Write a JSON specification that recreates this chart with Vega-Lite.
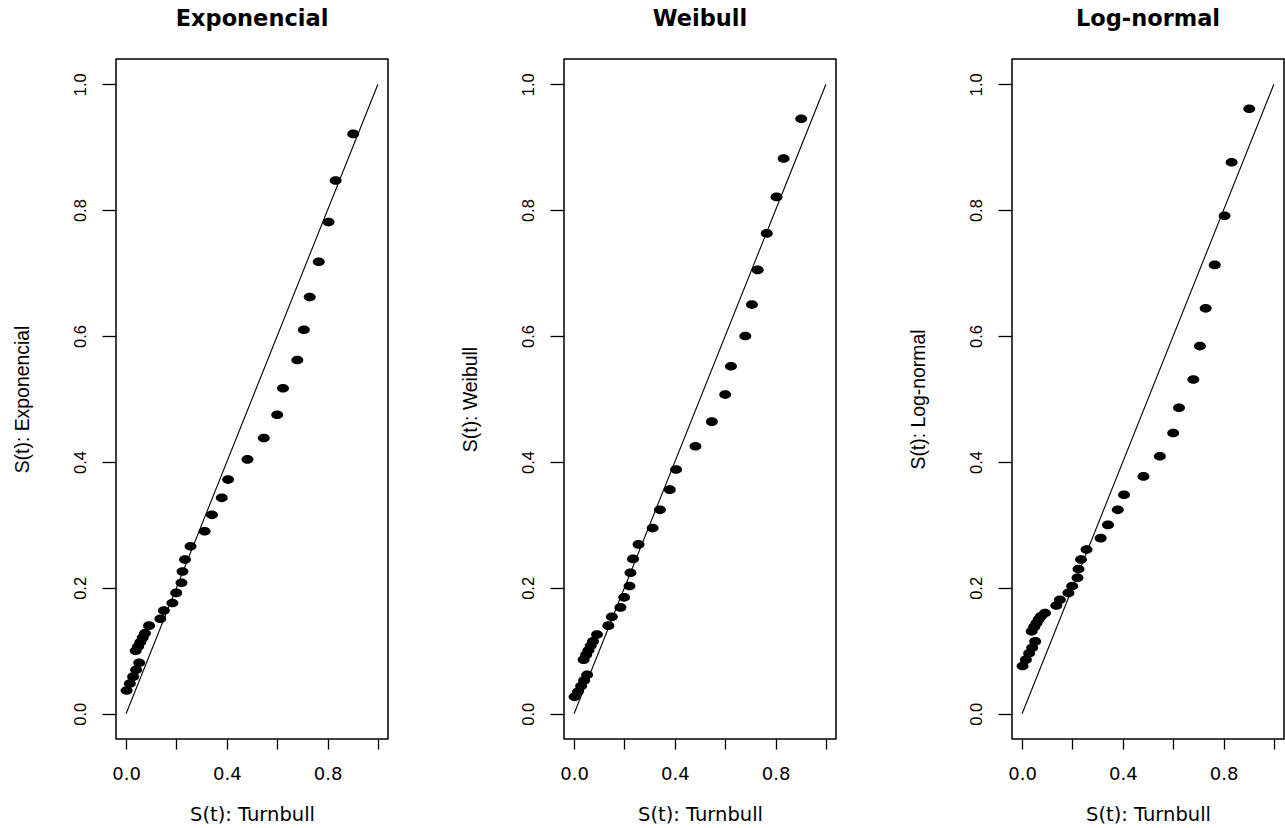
{
  "$schema": "https://vega.github.io/schema/vega-lite/v6.json",
  "background": "white",
  "autosize": {"type": "pad"},
  "padding": {"left": 11, "top": 6, "right": 0, "bottom": 0},
  "spacing": 176,
  "bounds": "flush",
  "datasets": {
    "pts": [
      {"turnbull": 0.902, "exp": 0.921, "wei": 0.945, "logn": 0.961},
      {"turnbull": 0.832, "exp": 0.847, "wei": 0.882, "logn": 0.876},
      {"turnbull": 0.804, "exp": 0.781, "wei": 0.821, "logn": 0.791},
      {"turnbull": 0.765, "exp": 0.718, "wei": 0.763, "logn": 0.713},
      {"turnbull": 0.729, "exp": 0.662, "wei": 0.705, "logn": 0.644},
      {"turnbull": 0.706, "exp": 0.610, "wei": 0.650, "logn": 0.584},
      {"turnbull": 0.680, "exp": 0.562, "wei": 0.600, "logn": 0.531},
      {"turnbull": 0.623, "exp": 0.517, "wei": 0.552, "logn": 0.486},
      {"turnbull": 0.600, "exp": 0.475, "wei": 0.507, "logn": 0.446},
      {"turnbull": 0.547, "exp": 0.438, "wei": 0.464, "logn": 0.409},
      {"turnbull": 0.482, "exp": 0.404, "wei": 0.425, "logn": 0.377},
      {"turnbull": 0.405, "exp": 0.372, "wei": 0.388, "logn": 0.348},
      {"turnbull": 0.380, "exp": 0.343, "wei": 0.356, "logn": 0.324},
      {"turnbull": 0.341, "exp": 0.316, "wei": 0.324, "logn": 0.300},
      {"turnbull": 0.312, "exp": 0.290, "wei": 0.295, "logn": 0.279},
      {"turnbull": 0.256, "exp": 0.266, "wei": 0.269, "logn": 0.261},
      {"turnbull": 0.234, "exp": 0.245, "wei": 0.246, "logn": 0.245},
      {"turnbull": 0.224, "exp": 0.226, "wei": 0.224, "logn": 0.230},
      {"turnbull": 0.220, "exp": 0.208, "wei": 0.203, "logn": 0.216},
      {"turnbull": 0.199, "exp": 0.192, "wei": 0.185, "logn": 0.203},
      {"turnbull": 0.184, "exp": 0.176, "wei": 0.169, "logn": 0.192},
      {"turnbull": 0.150, "exp": 0.164, "wei": 0.154, "logn": 0.181},
      {"turnbull": 0.136, "exp": 0.151, "wei": 0.140, "logn": 0.172},
      {"turnbull": 0.091, "exp": 0.140, "wei": 0.126, "logn": 0.160},
      {"turnbull": 0.075, "exp": 0.128, "wei": 0.115, "logn": 0.155},
      {"turnbull": 0.066, "exp": 0.121, "wei": 0.108, "logn": 0.150},
      {"turnbull": 0.057, "exp": 0.114, "wei": 0.101, "logn": 0.144},
      {"turnbull": 0.048, "exp": 0.107, "wei": 0.094, "logn": 0.138},
      {"turnbull": 0.038, "exp": 0.100, "wei": 0.086, "logn": 0.131},
      {"turnbull": 0.052, "exp": 0.081, "wei": 0.062, "logn": 0.115},
      {"turnbull": 0.040, "exp": 0.070, "wei": 0.053, "logn": 0.105},
      {"turnbull": 0.028, "exp": 0.059, "wei": 0.044, "logn": 0.096},
      {"turnbull": 0.015, "exp": 0.048, "wei": 0.035, "logn": 0.086},
      {"turnbull": 0.002, "exp": 0.037, "wei": 0.027, "logn": 0.076}
    ],
    "diag": [
      {"a": 0, "b": 0},
      {"a": 1, "b": 1}
    ]
  },
  "config": {
    "view": {"stroke": "black", "strokeWidth": 1.5},
    "title": {
      "font": "DejaVu Sans", "fontSize": 22.5, "fontWeight": "bold", "color": "black",
      "anchor": "middle", "baseline": "alphabetic", "offset": 29
    },
    "axisX": {
      "format": ".1f",
      "labelExpr": "(datum.value == 0 || datum.value == 0.4 || datum.value == 0.8) ? datum.label : ''",
      "domain": false, "grid": false,
      "tickSize": 10, "tickColor": "black", "tickWidth": 1.3,
      "labelFont": "DejaVu Sans", "labelFontSize": 18, "labelColor": "black",
      "labelPadding": 16.5, "labelFlush": false, "labelOverlap": false,
      "titleFont": "DejaVu Sans", "titleFontSize": 19.5, "titleFontWeight": "normal",
      "titleColor": "black", "titleBaseline": "alphabetic", "titleY": 81
    },
    "axisY": {
      "format": ".1f",
      "domain": false, "grid": false,
      "tickSize": 14, "tickColor": "black", "tickWidth": 1.3,
      "labelFont": "Liberation Sans", "labelFontSize": 16.5, "labelColor": "black",
      "labelAngle": -90, "labelAlign": "center", "labelBaseline": "alphabetic",
      "labelPadding": 17, "labelFlush": false, "labelOverlap": false,
      "titleFont": "Liberation Sans", "titleFontSize": 19.4, "titleFontWeight": "normal",
      "titleColor": "black", "titleAngle": -90, "titleAlign": "center",
      "titleBaseline": "alphabetic", "titleX": -88, "titleY": 340
    }
  },
  "hconcat": [
    {
      "title": "Exponencial",
      "width": 272, "height": 680,
      "layer": [
        {
          "data": {"name": "diag"},
          "mark": {"type": "line", "color": "black", "strokeWidth": 1.1},
          "encoding": {
            "x": {"field": "a", "type": "quantitative", "scale": {"domain": [-0.04, 1.04], "nice": false, "zero": false}, "axis": {"values": [0, 0.2, 0.4, 0.6, 0.8, 1]}, "title": "S(t): Turnbull"},
            "y": {"field": "b", "type": "quantitative", "scale": {"domain": [-0.04, 1.04], "nice": false, "zero": false}, "axis": {"values": [0, 0.2, 0.4, 0.6, 0.8, 1]}, "title": "S(t): Exponencial"}
          }
        },
        {
          "data": {"name": "pts"},
          "mark": {"type": "point", "filled": true, "color": "black", "opacity": 1, "size": 144, "strokeWidth": 0,
                   "shape": "M-1,0A1,0.72,0,1,1,1,0A1,0.72,0,1,1,-1,0Z"},
          "encoding": {
            "x": {"field": "turnbull", "type": "quantitative"},
            "y": {"field": "exp", "type": "quantitative"}
          }
        }
      ]
    },
    {
      "title": "Weibull",
      "width": 272, "height": 680,
      "layer": [
        {
          "data": {"name": "diag"},
          "mark": {"type": "line", "color": "black", "strokeWidth": 1.1},
          "encoding": {
            "x": {"field": "a", "type": "quantitative", "scale": {"domain": [-0.04, 1.04], "nice": false, "zero": false}, "axis": {"values": [0, 0.2, 0.4, 0.6, 0.8, 1]}, "title": "S(t): Turnbull"},
            "y": {"field": "b", "type": "quantitative", "scale": {"domain": [-0.04, 1.04], "nice": false, "zero": false}, "axis": {"values": [0, 0.2, 0.4, 0.6, 0.8, 1]}, "title": "S(t): Weibull"}
          }
        },
        {
          "data": {"name": "pts"},
          "mark": {"type": "point", "filled": true, "color": "black", "opacity": 1, "size": 144, "strokeWidth": 0,
                   "shape": "M-1,0A1,0.72,0,1,1,1,0A1,0.72,0,1,1,-1,0Z"},
          "encoding": {
            "x": {"field": "turnbull", "type": "quantitative"},
            "y": {"field": "wei", "type": "quantitative"}
          }
        }
      ]
    },
    {
      "title": "Log-normal",
      "width": 272, "height": 680,
      "layer": [
        {
          "data": {"name": "diag"},
          "mark": {"type": "line", "color": "black", "strokeWidth": 1.1},
          "encoding": {
            "x": {"field": "a", "type": "quantitative", "scale": {"domain": [-0.04, 1.04], "nice": false, "zero": false}, "axis": {"values": [0, 0.2, 0.4, 0.6, 0.8, 1]}, "title": "S(t): Turnbull"},
            "y": {"field": "b", "type": "quantitative", "scale": {"domain": [-0.04, 1.04], "nice": false, "zero": false}, "axis": {"values": [0, 0.2, 0.4, 0.6, 0.8, 1]}, "title": "S(t): Log-normal"}
          }
        },
        {
          "data": {"name": "pts"},
          "mark": {"type": "point", "filled": true, "color": "black", "opacity": 1, "size": 144, "strokeWidth": 0,
                   "shape": "M-1,0A1,0.72,0,1,1,1,0A1,0.72,0,1,1,-1,0Z"},
          "encoding": {
            "x": {"field": "turnbull", "type": "quantitative"},
            "y": {"field": "logn", "type": "quantitative"}
          }
        }
      ]
    }
  ]
}
